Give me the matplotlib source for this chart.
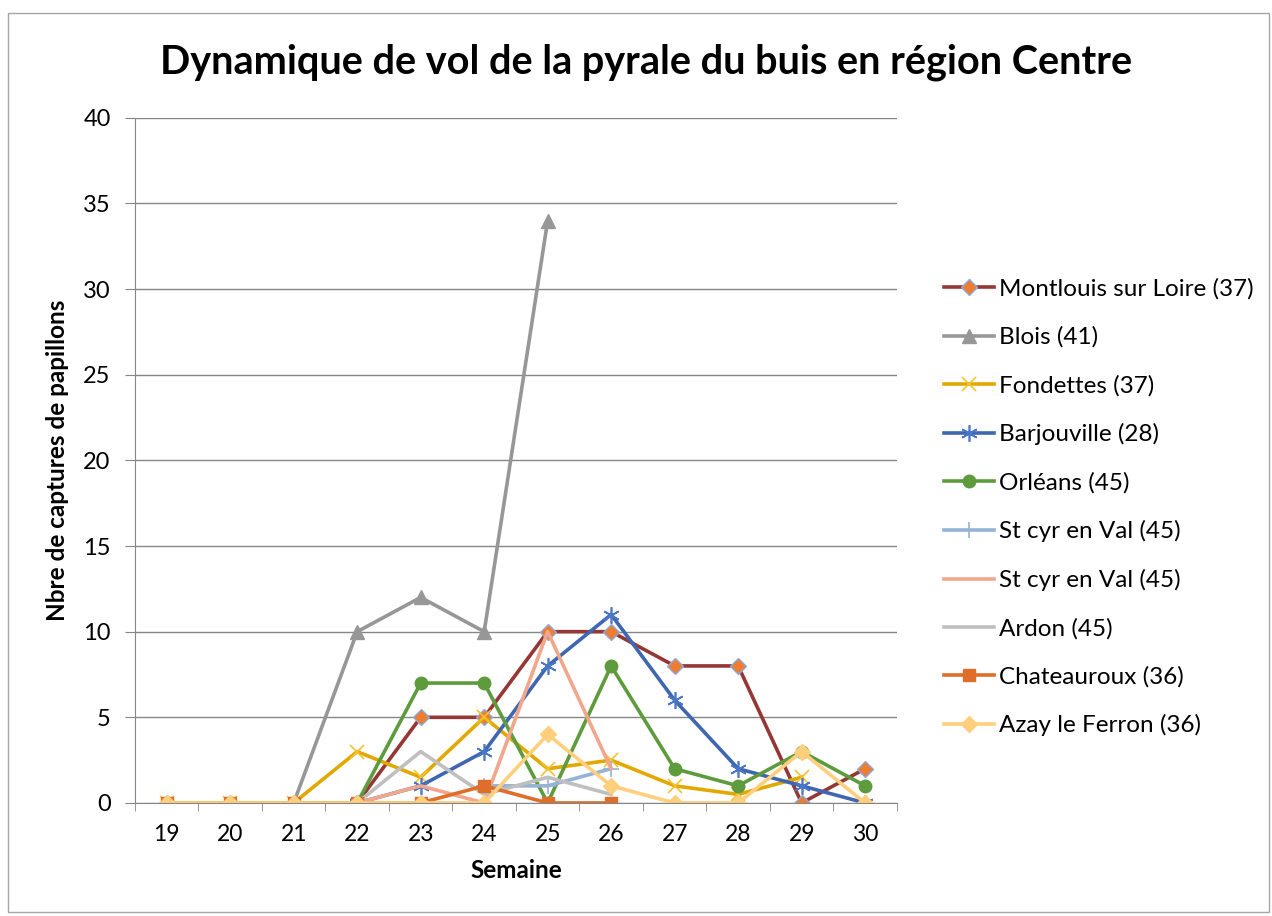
import matplotlib.pyplot as plt
from matplotlib.patches import Rectangle
import numpy as np

plt.rcParams['font.family'] = ['Lato', 'DejaVu Sans']

nan = np.nan

# semaines
semaines = [19, 20, 21, 22, 23, 24, 25, 26, 27, 28, 29, 30]

# captures par piège
montlouis = [0, 0, 0, 0, 5, 5, 10, 10, 8, 8, 0, 2]
blois = [0, 0, 0, 10, 12, 10, 34, nan, nan, nan, nan, nan]
fondettes = [0, 0, 0, 3, 1.5, 5, 2, 2.5, 1, 0.5, 1.5, nan]
barjouville = [nan, nan, nan, 0, 1, 3, 8, 11, 6, 2, 1, 0]
orleans = [nan, nan, nan, 0, 7, 7, 0, 8, 2, 1, 3, 1]
stcyr1 = [nan, nan, nan, nan, nan, 1, 1, 2, nan, nan, nan, nan]
stcyr2 = [nan, nan, nan, 0, 1, 0, 10, 2, nan, nan, nan, nan]
ardon = [nan, nan, nan, 0, 3, 0.5, 1.5, 0.5, nan, nan, nan, nan]
chateauroux = [0, 0, 0, 0, 0, 1, 0, 0, nan, nan, nan, nan]
azay = [0, 0, 0, 0, 0, 0, 4, 1, 0, 0, 3, 0]

series = [
    ('Montlouis sur Loire (37)', montlouis, '#953735', 'D', '#ED7D31', '#8EA9DB', 8),
    ('Blois (41)', blois, '#979797', '^', '#979797', '#979797', 10),
    ('Fondettes (37)', fondettes, '#E3A800', 'x', '#F2C230', '#F2C230', 10),
    ('Barjouville (28)', barjouville, '#3F67B1', (6, 2, 0), '#4A76C6', '#4A76C6', 12),
    ('Orléans (45)', orleans, '#5E9B3C', 'o', '#5E9B3C', '#5E9B3C', 9),
    ('St cyr en Val (45)', stcyr1, '#95B3D7', '+', '#95B3D7', '#95B3D7', 12),
    ('St cyr en Val (45)', stcyr2, '#F2A68B', None, None, None, 0),
    ('Ardon (45)', ardon, '#BFBFBF', None, None, None, 0),
    ('Chateauroux (36)', chateauroux, '#DE6E2A', 's', '#DE6E2A', '#DE6E2A', 9),
    ('Azay le Ferron (36)', azay, '#FFCF7D', 'D', '#FFCF7D', '#FFCF7D', 8),
]

fig = plt.figure(figsize=(12.72, 9.16), dpi=100)
ax = fig.add_axes([0.1061, 0.1234, 0.599, 0.748])

# cadre extérieur
fig.patches.append(Rectangle((0.006, 0.004), 0.992, 0.982, transform=fig.transFigure,
                             fill=False, edgecolor='#A6A6A6', linewidth=1))

for label, vals, color, marker, mfc, mec, ms in series:
    ax.plot(semaines, vals, color=color, linewidth=2.6, marker=marker,
            markerfacecolor=mfc, markeredgecolor=mec, markersize=ms,
            markeredgewidth=1.0 if marker not in ('x', '+', (6, 2, 0)) else 1.2,
            label=label)

ax.set_xlim(18.5, 30.5)
ax.set_ylim(0, 40)
ax.set_yticks(np.arange(0, 41, 5))
ax.set_xticks(semaines)
ax.set_xticks(np.arange(18.5, 30.6, 1), minor=True)
ax.tick_params(axis='x', which='major', length=0, labelsize=16.5, pad=15)
ax.tick_params(axis='x', which='minor', length=6, color='#868686')
ax.tick_params(axis='y', length=7.5, color='#868686', labelsize=17, pad=10)
ax.grid(axis='y', color='#868686', linewidth=1)
ax.set_axisbelow(True)

for s in ['top', 'right']:
    ax.spines[s].set_visible(False)
ax.spines['left'].set_color('#868686')
ax.spines['bottom'].set_color('#868686')

ax.set_xlabel('Semaine', fontsize=17.5, fontweight='bold', labelpad=10)
ax.set_ylabel('Nbre de captures de papillons', fontsize=17.5, fontweight='bold', labelpad=10)
fig.text(0.508, 0.932, 'Dynamique de vol de la pyrale du buis en région Centre',
         ha='center', va='center', fontsize=28.5, fontweight='bold')

ax.legend(loc='upper left', bbox_to_anchor=(1.049, 0.78), frameon=False,
          fontsize=17.5, handlelength=2.05, labelspacing=1.1, handletextpad=0.2,
          borderaxespad=0)

plt.savefig('out.png', dpi=100)
